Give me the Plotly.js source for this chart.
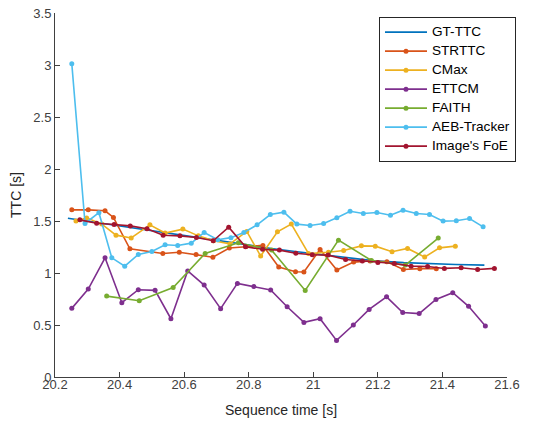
<!DOCTYPE html>
<html>
<head>
<meta charset="utf-8">
<script src="https://cdn.plot.ly/plotly-3.0.1.min.js"></script>
<style>html,body{margin:0;padding:0;background:#fff;}#chart{width:535px;height:425px;}</style>
</head>
<body>
<div id="chart"></div>
<script>
// GT-TTC (line only)
const gtT = [20.24, 20.32, 20.40, 20.47, 20.54, 20.62, 20.70, 20.78, 20.87, 20.95, 21.03, 21.11, 21.19, 21.28, 21.36, 21.44, 21.53];
const gtV = [1.527, 1.49, 1.455, 1.42, 1.386, 1.348, 1.31, 1.272, 1.236, 1.205, 1.175, 1.145, 1.117, 1.10, 1.09, 1.082, 1.076];

const strT = [20.252, 20.303, 20.355, 20.381, 20.432, 20.534, 20.585, 20.637, 20.689, 20.74, 20.792, 20.844, 20.893, 20.945, 20.971, 21.021, 21.073, 21.125, 21.176, 21.228, 21.279, 21.33, 21.381];
const strV = [1.607, 1.607, 1.598, 1.534, 1.232, 1.187, 1.199, 1.179, 1.152, 1.24, 1.255, 1.265, 1.057, 1.012, 1.010, 1.227, 1.028, 1.105, 1.115, 1.108, 1.034, 1.042, 1.042];

const cmaxT = [20.265, 20.298, 20.345, 20.389, 20.436, 20.494, 20.541, 20.596, 20.644, 20.691, 20.742, 20.794, 20.837, 20.889, 20.932, 20.985, 21.047, 21.094, 21.149, 21.192, 21.244, 21.292, 21.345, 21.391, 21.44];
const cmaxV = [1.50, 1.53, 1.47, 1.364, 1.337, 1.463, 1.384, 1.422, 1.357, 1.31, 1.28, 1.40, 1.163, 1.396, 1.47, 1.188, 1.20, 1.216, 1.261, 1.258, 1.204, 1.236, 1.153, 1.242, 1.258];

const ettcmT = [20.252, 20.303, 20.355, 20.407, 20.458, 20.51, 20.559, 20.611, 20.662, 20.713, 20.765, 20.816, 20.868, 20.919, 20.971, 21.021, 21.072, 21.124, 21.173, 21.227, 21.277, 21.328, 21.38, 21.432, 21.481, 21.533];
const ettcmV = [0.66, 0.845, 1.146, 0.714, 0.839, 0.833, 0.56, 1.02, 0.884, 0.657, 0.90, 0.871, 0.836, 0.675, 0.525, 0.56, 0.352, 0.50, 0.65, 0.771, 0.62, 0.61, 0.746, 0.81, 0.68, 0.49];

const faithT = [20.36, 20.461, 20.566, 20.665, 20.768, 20.871, 20.975, 21.078, 21.18, 21.285, 21.387];
const faithV = [0.778, 0.733, 0.86, 1.188, 1.29, 1.22, 0.832, 1.316, 1.12, 1.076, 1.336];

const aebT = [20.252, 20.293, 20.336, 20.376, 20.416, 20.458, 20.5, 20.541, 20.58, 20.622, 20.662, 20.704, 20.745, 20.785, 20.826, 20.867, 20.909, 20.949, 20.99, 21.032, 21.073, 21.114, 21.155, 21.197, 21.239, 21.278, 21.319, 21.36, 21.402, 21.443, 21.484, 21.526];
const aebV = [3.013, 1.476, 1.58, 1.146, 1.066, 1.178, 1.207, 1.272, 1.265, 1.287, 1.39, 1.32, 1.34, 1.39, 1.463, 1.562, 1.585, 1.47, 1.457, 1.476, 1.532, 1.593, 1.572, 1.582, 1.556, 1.604, 1.572, 1.563, 1.499, 1.502, 1.524, 1.444];

const foeT = [20.277, 20.329, 20.383, 20.433, 20.485, 20.535, 20.587, 20.638, 20.69, 20.738, 20.79, 20.843, 20.895, 20.946, 20.997, 21.046, 21.1, 21.152, 21.2, 21.251, 21.303, 21.354, 21.406, 21.458, 21.509, 21.561];
const foeV = [1.511, 1.479, 1.467, 1.453, 1.425, 1.363, 1.357, 1.342, 1.31, 1.44, 1.252, 1.228, 1.22, 1.19, 1.175, 1.172, 1.13, 1.115, 1.102, 1.092, 1.066, 1.063, 1.044, 1.05, 1.034, 1.044];

const names = ["GT-TTC", "STRTTC", "CMax", "ETTCM", "FAITH", "AEB-Tracker", "Image's FoE"];
const colors = ["#0072BD", "#D95319", "#EDB120", "#7E2F8E", "#77AC30", "#4DBEEE", "#A2142F"];
const xs = [gtT, strT, cmaxT, ettcmT, faithT, aebT, foeT];
const ys = [gtV, strV, cmaxV, ettcmV, faithV, aebV, foeV];

const traces = names.map((n, i) => ({
  x: xs[i], y: ys[i],
  name: '<span style="font-size:13.6px">' + n + '</span>',
  type: 'scatter',
  mode: i === 0 ? 'lines' : 'lines+markers',
  line: {color: colors[i], width: 1.6},
  marker: {color: colors[i], size: 5},
}));

const axisCol = '#404040';
const layout = {
  width: 535, height: 425,
  margin: {l: 55, r: 28, t: 13, b: 48},
  paper_bgcolor: '#fff', plot_bgcolor: '#fff',
  font: {family: 'Liberation Sans, Arial, sans-serif', size: 13, color: '#262626'},
  showlegend: true,
  legend: {x: 0.7168, y: 0.99, xanchor: 'left', yanchor: 'top',
    bordercolor: '#262626', borderwidth: 1, bgcolor: '#fff', itemwidth: 42,
    font: {size: 10.8, color: '#000'}, tracegroupgap: 0},
  xaxis: {range: [20.2, 21.6], dtick: 0.2, tick0: 20.2, showgrid: false, zeroline: false,
    showline: true, linecolor: axisCol, linewidth: 1, ticks: 'inside', ticklen: 5, tickcolor: axisCol,
    ticklabelstandoff: -5,
    tickfont: {size: 13, color: '#404040'},
    title: {text: 'Sequence time [s]', font: {size: 14, color: '#262626'}, standoff: 14}},
  yaxis: {range: [0, 3.5], dtick: 0.5, showgrid: false, zeroline: false,
    showline: true, linecolor: axisCol, linewidth: 1, ticks: 'inside', ticklen: 5, tickcolor: axisCol,
    tickfont: {size: 13, color: '#404040'},
    title: {text: 'TTC [s]', font: {size: 14, color: '#262626'}, standoff: 8}},
};

Plotly.newPlot('chart', traces, layout, {displayModeBar: false, staticPlot: true});
</script>
</body>
</html>
